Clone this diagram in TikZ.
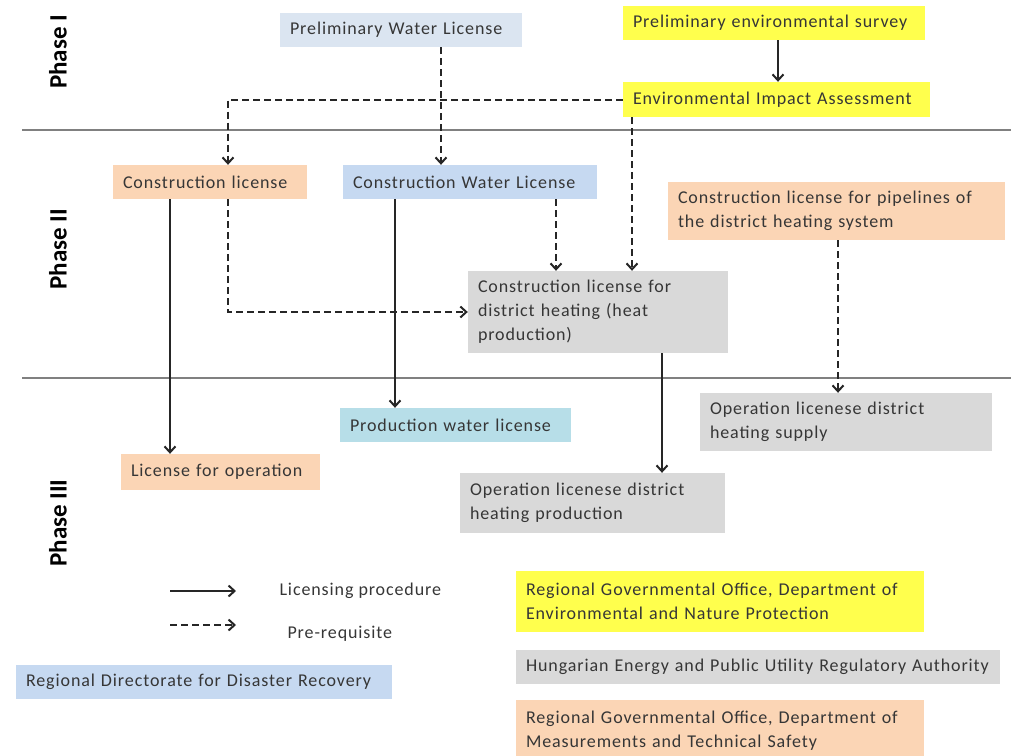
\documentclass[tikz,border=0pt]{standalone}
\usepackage{fontspec}
\setmainfont{Carlito}[LetterSpace=5]
\newfontfamily\phasefont{Carlito}
\usetikzlibrary{arrows.meta}
\definecolor{cPeach}{HTML}{FBD5B5}
\definecolor{cYellow}{HTML}{FFFF4D}
\definecolor{cGrey}{HTML}{D9D9D9}
\definecolor{cBlue}{HTML}{C6D9F1}
\definecolor{cPale}{HTML}{DBE5F1}
\definecolor{cCyan}{HTML}{B7DEE8}
\definecolor{cText}{HTML}{363636}
\definecolor{cRule}{HTML}{808080}
\tikzset{
  box/.style={inner xsep=10pt, inner ysep=0pt, text=cText, align=left,
    font=\fontsize{18}{24}\selectfont, anchor=center},
  bx/.style n args={2}{box, minimum width=#1, minimum height=#2, text width=#1-20pt},
  lic/.style={line width=2pt, -{Straight Barb[length=6pt,width=11pt,line width=2pt]}, black!85},
  pre/.style={lic, dash pattern=on 7pt off 4pt},
  rule/.style={cRule, line width=1.6pt},
  phase/.style={rotate=90, inner sep=0pt, font=\phasefont\bfseries\fontsize{25}{28}\selectfont, text=black},
  legtext/.style={text=cText, font=\fontsize{18}{20}\selectfont}
}
\begin{document}
\begin{tikzpicture}[x=1pt,y=-1pt]
\useasboundingbox (0,0) rectangle (1011,755);
\clip (0,0) rectangle (1011,755);
% phase rules
\coordinate (r1a) at (22,130); \coordinate (r1b) at (1011,130);
\coordinate (r2a) at (22,378); \coordinate (r2b) at (1011,378);
\draw[rule] (r1a) -- (r1b);
\draw[rule] (r2a) -- (r2b);
% phase labels
\node[phase] (ph1) at (58,52) {Phase I};
\node[phase] (ph2) at (58,249) {Phase II};
\node[phase] (ph3) at (58,523) {Phase III};
% boxes
\node[bx={242pt}{34pt}, fill=cPale] (pwl) at (401,30) {Preliminary Water License};
\node[bx={302pt}{34pt}, fill=cYellow] (pes) at (774,23) {Preliminary environmental survey};
\node[bx={307pt}{35pt}, fill=cYellow] (eia) at (776.5,99.5) {Environmental Impact Assessment};
\node[bx={194pt}{34pt}, fill=cPeach] (cl) at (210,182) {Construction license};
\node[bx={254pt}{34pt}, fill=cBlue] (cwl) at (470,182) {Construction Water License};
\node[bx={337pt}{58pt}, fill=cPeach] (pipe) at (836.5,211) {Construction license for pipelines of\\the district heating system};
\node[bx={260pt}{82pt}, fill=cGrey] (dh) at (598,312) {Construction license for\\district heating (heat\\production)};
\node[bx={231pt}{34pt}, fill=cCyan] (pwlic) at (455.5,425) {Production water license};
\node[bx={292pt}{58pt}, fill=cGrey] (ops) at (846,422) {Operation licenese district\\heating supply};
\node[bx={199pt}{36pt}, fill=cPeach] (lfo) at (220.5,472) {License for operation};
\node[bx={265pt}{60pt}, fill=cGrey] (opp) at (592.5,503) {Operation licenese district\\heating production};
% legend
\node[bx={376pt}{34pt}, fill=cBlue] (rdd) at (204,682) {Regional Directorate for Disaster Recovery};
\node[bx={408pt}{61pt}, fill=cYellow] (rgo1) at (720,601.5) {Regional Governmental Office, Department of\\Environmental and Nature Protection};
\node[bx={484pt}{34pt}, fill=cGrey] (heo) at (758,667) {Hungarian Energy and Public Utility Regulatory Authority};
\node[bx={408pt}{62pt}, fill=cPeach] (rgo2) at (720,731) {Regional Governmental Office, Department of\\Measurements and Technical Safety};
\coordinate (l1a) at (170,591); \coordinate (l1b) at (236,591);
\coordinate (l2a) at (170,625); \coordinate (l2b) at (236,625);
\draw[lic] (l1a) -- (l1b);
\draw[pre] (l2a) -- (l2b);
\node[legtext, anchor=west] (lt1) at (276,591) {Licensing procedure};
\node[legtext, anchor=west] (lt2) at (284,634) {Pre-requisite};
% connectors
\draw[lic] ([xshift=4]pes.south) -- ([xshift=1.5]eia.north);
\draw[pre] ([xshift=40]pwl.south) -- ([xshift=-29]cwl.north);
\draw[pre] (eia.west) -| ([xshift=18]cl.north);
\draw[pre] ([xshift=-144.5]eia.south) -- ([xshift=34]dh.north);
\draw[pre] ([xshift=86]cwl.south) -- ([xshift=-42]dh.north);
\draw[pre] ([xshift=18]cl.south) |- (dh.west);
\draw[lic] ([xshift=-40]cl.south) -- ([xshift=-50.5]lfo.north);
\draw[lic] ([xshift=-75]cwl.south) -- ([xshift=-60.5]pwlic.north);
\draw[lic] ([xshift=64]dh.south) -- ([xshift=69.5]opp.north);
\draw[pre] ([xshift=1.5]pipe.south) -- ([xshift=-8]ops.north);
\end{tikzpicture}
\end{document}
